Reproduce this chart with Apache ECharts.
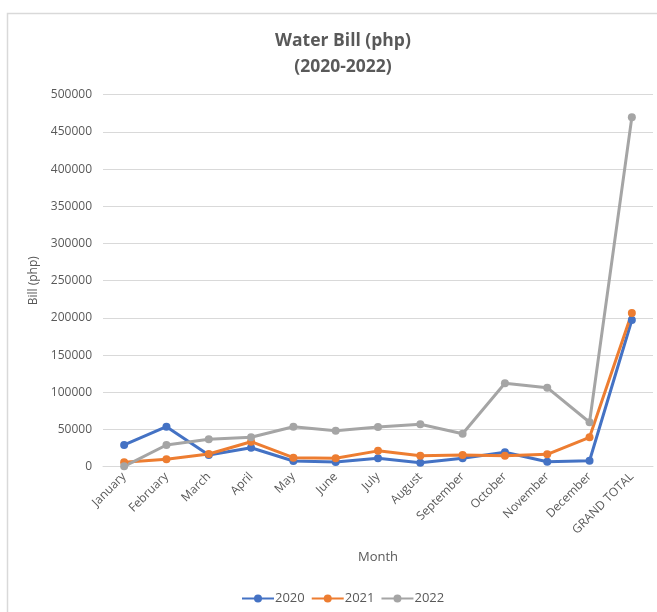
<!DOCTYPE html>
<html>
<head>
<meta charset="utf-8">
<script src="https://cdn.jsdelivr.net/npm/echarts@6/dist/echarts.min.js"></script>
<style>
  html, body { margin: 0; padding: 0; background: #fff; }
  #chart { width: 657px; height: 612px; }
</style>
</head>
<body>
<div id="chart"></div>
<script>
// Monthly water bill (php), plus the yearly grand total
const months = ['January', 'February', 'March', 'April', 'May', 'June', 'July',
  'August', 'September', 'October', 'November', 'December', 'GRAND TOTAL'];
const bill2020 = [29200, 53800, 15700, 25500, 7700, 6300, 11300, 5400, 11300, 19400, 6700, 8000, 197200];
const bill2021 = [5900, 9900, 17000, 33600, 12100, 11300, 21300, 14800, 15700, 14800, 16700, 39500, 206500];
const bill2022 = [500, 29200, 36800, 39500, 53800, 48400, 53400, 57000, 44400, 112100, 106200, 59700, 469600];
const yTicks = { min: 0, max: 500000, interval: 50000 };

const grey = '#595959';
const font = '"Open Sans", "Liberation Sans", sans-serif';

function lineSeries(name, data, color) {
  return {
    name: name,
    type: 'line',
    data: data,
    symbol: 'circle',
    symbolSize: 8,
    lineStyle: { width: 3, color: color },
    itemStyle: { color: color },
    emphasis: { disabled: true }
  };
}

const chart = echarts.init(document.getElementById('chart'), null, { renderer: 'canvas' });
chart.setOption({
  animation: false,
  backgroundColor: '#fff',
  textStyle: { fontFamily: font },
  graphic: [{
    type: 'rect',
    shape: { x: 7.5, y: 13.5, width: 700, height: 700 },
    style: { fill: 'none', stroke: '#D9D9D9', lineWidth: 1.5 },
    silent: true
  }],
  title: {
    text: 'Water Bill (php)\n(2020-2022)',
    left: 338,
    top: 23,
    textAlign: 'center',
    textStyle: { fontFamily: font, fontSize: 17.5, fontWeight: 'bold', color: grey, lineHeight: 26 }
  },
  legend: {
    bottom: 2,
    left: 236,
    itemWidth: 32,
    itemHeight: 10,
    itemGap: 6,
    textStyle: { fontFamily: font, fontSize: 13, color: grey, padding: [0, 0, 0, -4] },
    data: ['2020', '2021', '2022']
  },
  grid: { left: 103, right: 4, top: 94.7, bottom: 145.3, containLabel: false },
  xAxis: {
    type: 'category',
    data: months,
    boundaryGap: true,
    name: 'Month',
    nameLocation: 'middle',
    nameGap: 84,
    nameTextStyle: { fontFamily: font, fontSize: 13, color: grey },
    axisLine: { lineStyle: { color: '#D9D9D9', width: 1 } },
    axisTick: { show: false },
    axisLabel: { rotate: 45, fontSize: 12, color: grey, fontFamily: font, margin: 8, interval: 0 }
  },
  yAxis: {
    type: 'value',
    min: yTicks.min,
    max: yTicks.max,
    interval: yTicks.interval,
    name: 'Bill (php)',
    nameLocation: 'middle',
    nameRotate: 90,
    nameGap: 55,
    nameTextStyle: { fontFamily: font, fontSize: 12, color: grey },
    axisLine: { show: false },
    axisTick: { show: false },
    splitLine: { lineStyle: { color: '#D9D9D9', width: 1 } },
    axisLabel: { fontSize: 12, color: grey, fontFamily: font, margin: 11, formatter: v => String(v) }
  },
  series: [
    lineSeries('2020', bill2020, '#4472C4'),
    lineSeries('2021', bill2021, '#ED7D31'),
    lineSeries('2022', bill2022, '#A5A5A5')
  ]
});
</script>
</body>
</html>
